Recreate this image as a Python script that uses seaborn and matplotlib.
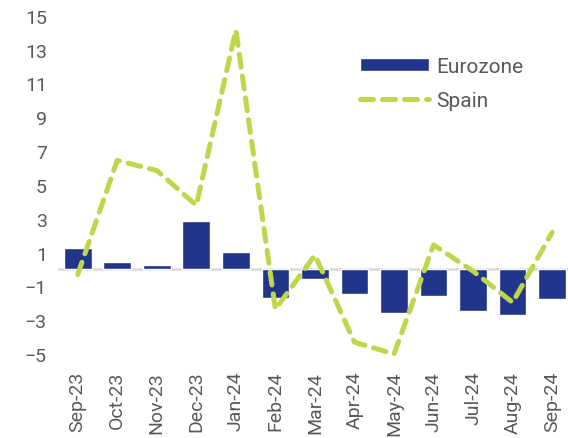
import pandas as pd
import matplotlib.pyplot as plt
import seaborn as sns

months = ["Sep-23", "Oct-23", "Nov-23", "Dec-23", "Jan-24", "Feb-24", "Mar-24",
          "Apr-24", "May-24", "Jun-24", "Jul-24", "Aug-24", "Sep-24"]
eurozone = [1.25, 0.45, 0.27, 2.85, 1.05, -1.67, -0.56, -1.45, -2.57, -1.57, -2.46, -2.67, -1.75]
spain = [-0.3, 6.45, 5.85, 3.8, 14.15, -2.35, 0.85, -4.3, -5.0, 1.45, -0.1, -1.95, 2.2]
y_ticks = [15, 13, 11, 9, 7, 5, 3, 1, -1, -3, -5]

df = pd.DataFrame({"month": months, "Eurozone": eurozone, "Spain": spain})

sns.set_style("white")
plt.rcParams["font.family"] = ["Roboto", "DejaVu Sans"]

fig = plt.figure(figsize=(5.68, 4.39), dpi=100)
ax = fig.add_axes([0.102, 0.172, 0.898, 0.809])

# bars: Eurozone
sns.barplot(data=df, x="month", y="Eurozone", color="#21358A", saturation=1,
            width=0.7, label="Eurozone", ax=ax, zorder=2)
# line: Spain
sns.lineplot(data=df, x="month", y="Spain", color="#BED64C", lw=3.6,
             dashes=False, label="Spain", ax=ax, zorder=3, sort=False)
ax.lines[-1].set_dashes((2.6, 1.8))
ax.lines[-1].set_dash_capstyle("round")

ax.axhline(0, color="#D9D9D9", lw=1.8, zorder=1)

ax.set_ylim(-5.5, 15.5)
ax.set_xlim(-0.5, 12.4)
ax.set_yticks(y_ticks)
ax.set_xlabel("")
ax.set_ylabel("")
ax.tick_params(axis="x", rotation=90, labelsize=14, colors="#595959", length=0, pad=6)
ax.tick_params(axis="y", labelsize=14, colors="#595959", length=0, pad=8)
sns.despine(ax=ax, left=True, bottom=True)

handles, labels = ax.get_legend_handles_labels()
order = [labels.index("Eurozone"), labels.index("Spain")]
ax.legend([handles[i] for i in order], [labels[i] for i in order],
          loc="upper left", bbox_to_anchor=(0.555, 0.913), frameon=False, fontsize=15,
          handlelength=3.3, handleheight=0.6, labelspacing=0.73, handletextpad=0.35,
          labelcolor="#595959")

fig.savefig("out.png", dpi=100)
